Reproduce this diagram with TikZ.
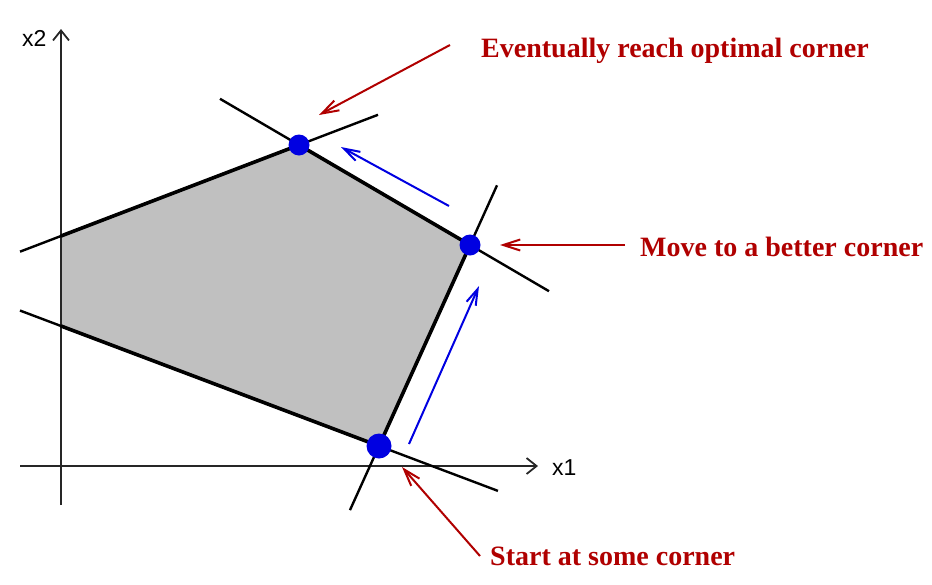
\documentclass[tikz,border=0pt]{standalone}
\usepackage{fontspec}
\setmainfont{Liberation Serif}
\newfontfamily\labfont{Liberation Serif}
\newfontfamily\axfont{Liberation Sans}
\usetikzlibrary{arrows.meta,calc}
\definecolor{dred}{RGB}{176,0,0}
\definecolor{dblue}{RGB}{0,0,225}
\definecolor{polygray}{RGB}{192,192,192}
\tikzset{
  axisline/.style={line width=1.8pt, black!85, -{Straight Barb[length=10pt,width=16pt,line width=1.8pt]}},
  extline/.style={line width=2.4pt, black},
  edgeline/.style={line width=3.6pt, black},
  corner/.style={circle, fill=dblue, inner sep=0pt, minimum size=#1},
  bluearrow/.style={line width=2pt, dblue, -{Straight Barb[length=16pt,width=10pt,line width=2pt]}},
  redarrow/.style={line width=2pt, dred, -{Straight Barb[length=17pt,width=11pt,line width=2pt]}},
  redlabel/.style={text=dred, font=\labfont\bfseries\fontsize{28}{30}\selectfont, anchor=base west, inner sep=0pt},
  axlabel/.style={font=\axfont\fontsize{23}{25}\selectfont, anchor=base west, inner sep=0pt},
}
\begin{document}
\begin{tikzpicture}[x=1pt,y=-1pt]
\useasboundingbox (0,0) rectangle (932,584);
% corners
\coordinate (A) at (61,236);
\coordinate (B) at (299,145);
\coordinate (C) at (470,245);
\coordinate (D) at (379,446);
\coordinate (E) at (61,326);
% polygon
\fill[polygray] (A) -- (B) -- (C) -- (D) -- (E) -- cycle;
% axes
\coordinate (o2) at (61,505);
\coordinate (t2) at (61,29);
\coordinate (o1) at (20,466);
\coordinate (t1) at (538,466);
\draw[axisline] (o2) -- (t2);
\draw[axisline] (o1) -- (t1);
\node[axlabel] (lx2) at (22,46) {x2};
\node[axlabel] (lx1) at (552,475) {x1};
% constraint lines (extensions of the polygon edges)
\coordinate (l1a) at ($(A)!-0.172!(B)$); \coordinate (l1b) at ($(A)!1.332!(B)$);
\coordinate (l2a) at ($(B)!-0.462!(C)$); \coordinate (l2b) at ($(B)!1.462!(C)$);
\coordinate (l3a) at ($(C)!-0.297!(D)$); \coordinate (l3b) at ($(C)!1.319!(D)$);
\coordinate (l4a) at ($(D)!-0.374!(E)$); \coordinate (l4b) at ($(D)!1.129!(E)$);
\draw[extline] (l1a) -- (l1b);
\draw[extline] (l2a) -- (l2b);
\draw[extline] (l3a) -- (l3b);
\draw[extline] (l4a) -- (l4b);
\draw[edgeline, line join=round] (A) -- (B) -- (C) -- (D) -- (E);
% corner dots
\node[corner=21pt] (dB) at (B) {};
\node[corner=21pt] (dC) at (C) {};
\node[corner=25pt] (dD) at (D) {};
% blue moves
\coordinate (m1s) at (409,444); \coordinate (m1e) at (479,286);
\coordinate (m2s) at (449,206); \coordinate (m2e) at (341,147);
\draw[bluearrow] (m1s) -- (m1e);
\draw[bluearrow] (m2s) -- (m2e);
% labels
\node[redlabel] (t_opt) at (481,57) {Eventually reach optimal corner};
\node[redlabel] (t_move) at (640,256) {Move to a better corner};
\node[redlabel] (t_start) at (490,565) {Start at some corner};
\coordinate (r1s) at (450,45); \coordinate (r1e) at (319,115);
\coordinate (r2s) at (625,245); \coordinate (r2e) at (500,245);
\coordinate (r3s) at (480,556); \coordinate (r3e) at (402,467);
\draw[redarrow] (r1s) -- (r1e);
\draw[redarrow] (r2s) -- (r2e);
\draw[redarrow] (r3s) -- (r3e);
\end{tikzpicture}
\end{document}
